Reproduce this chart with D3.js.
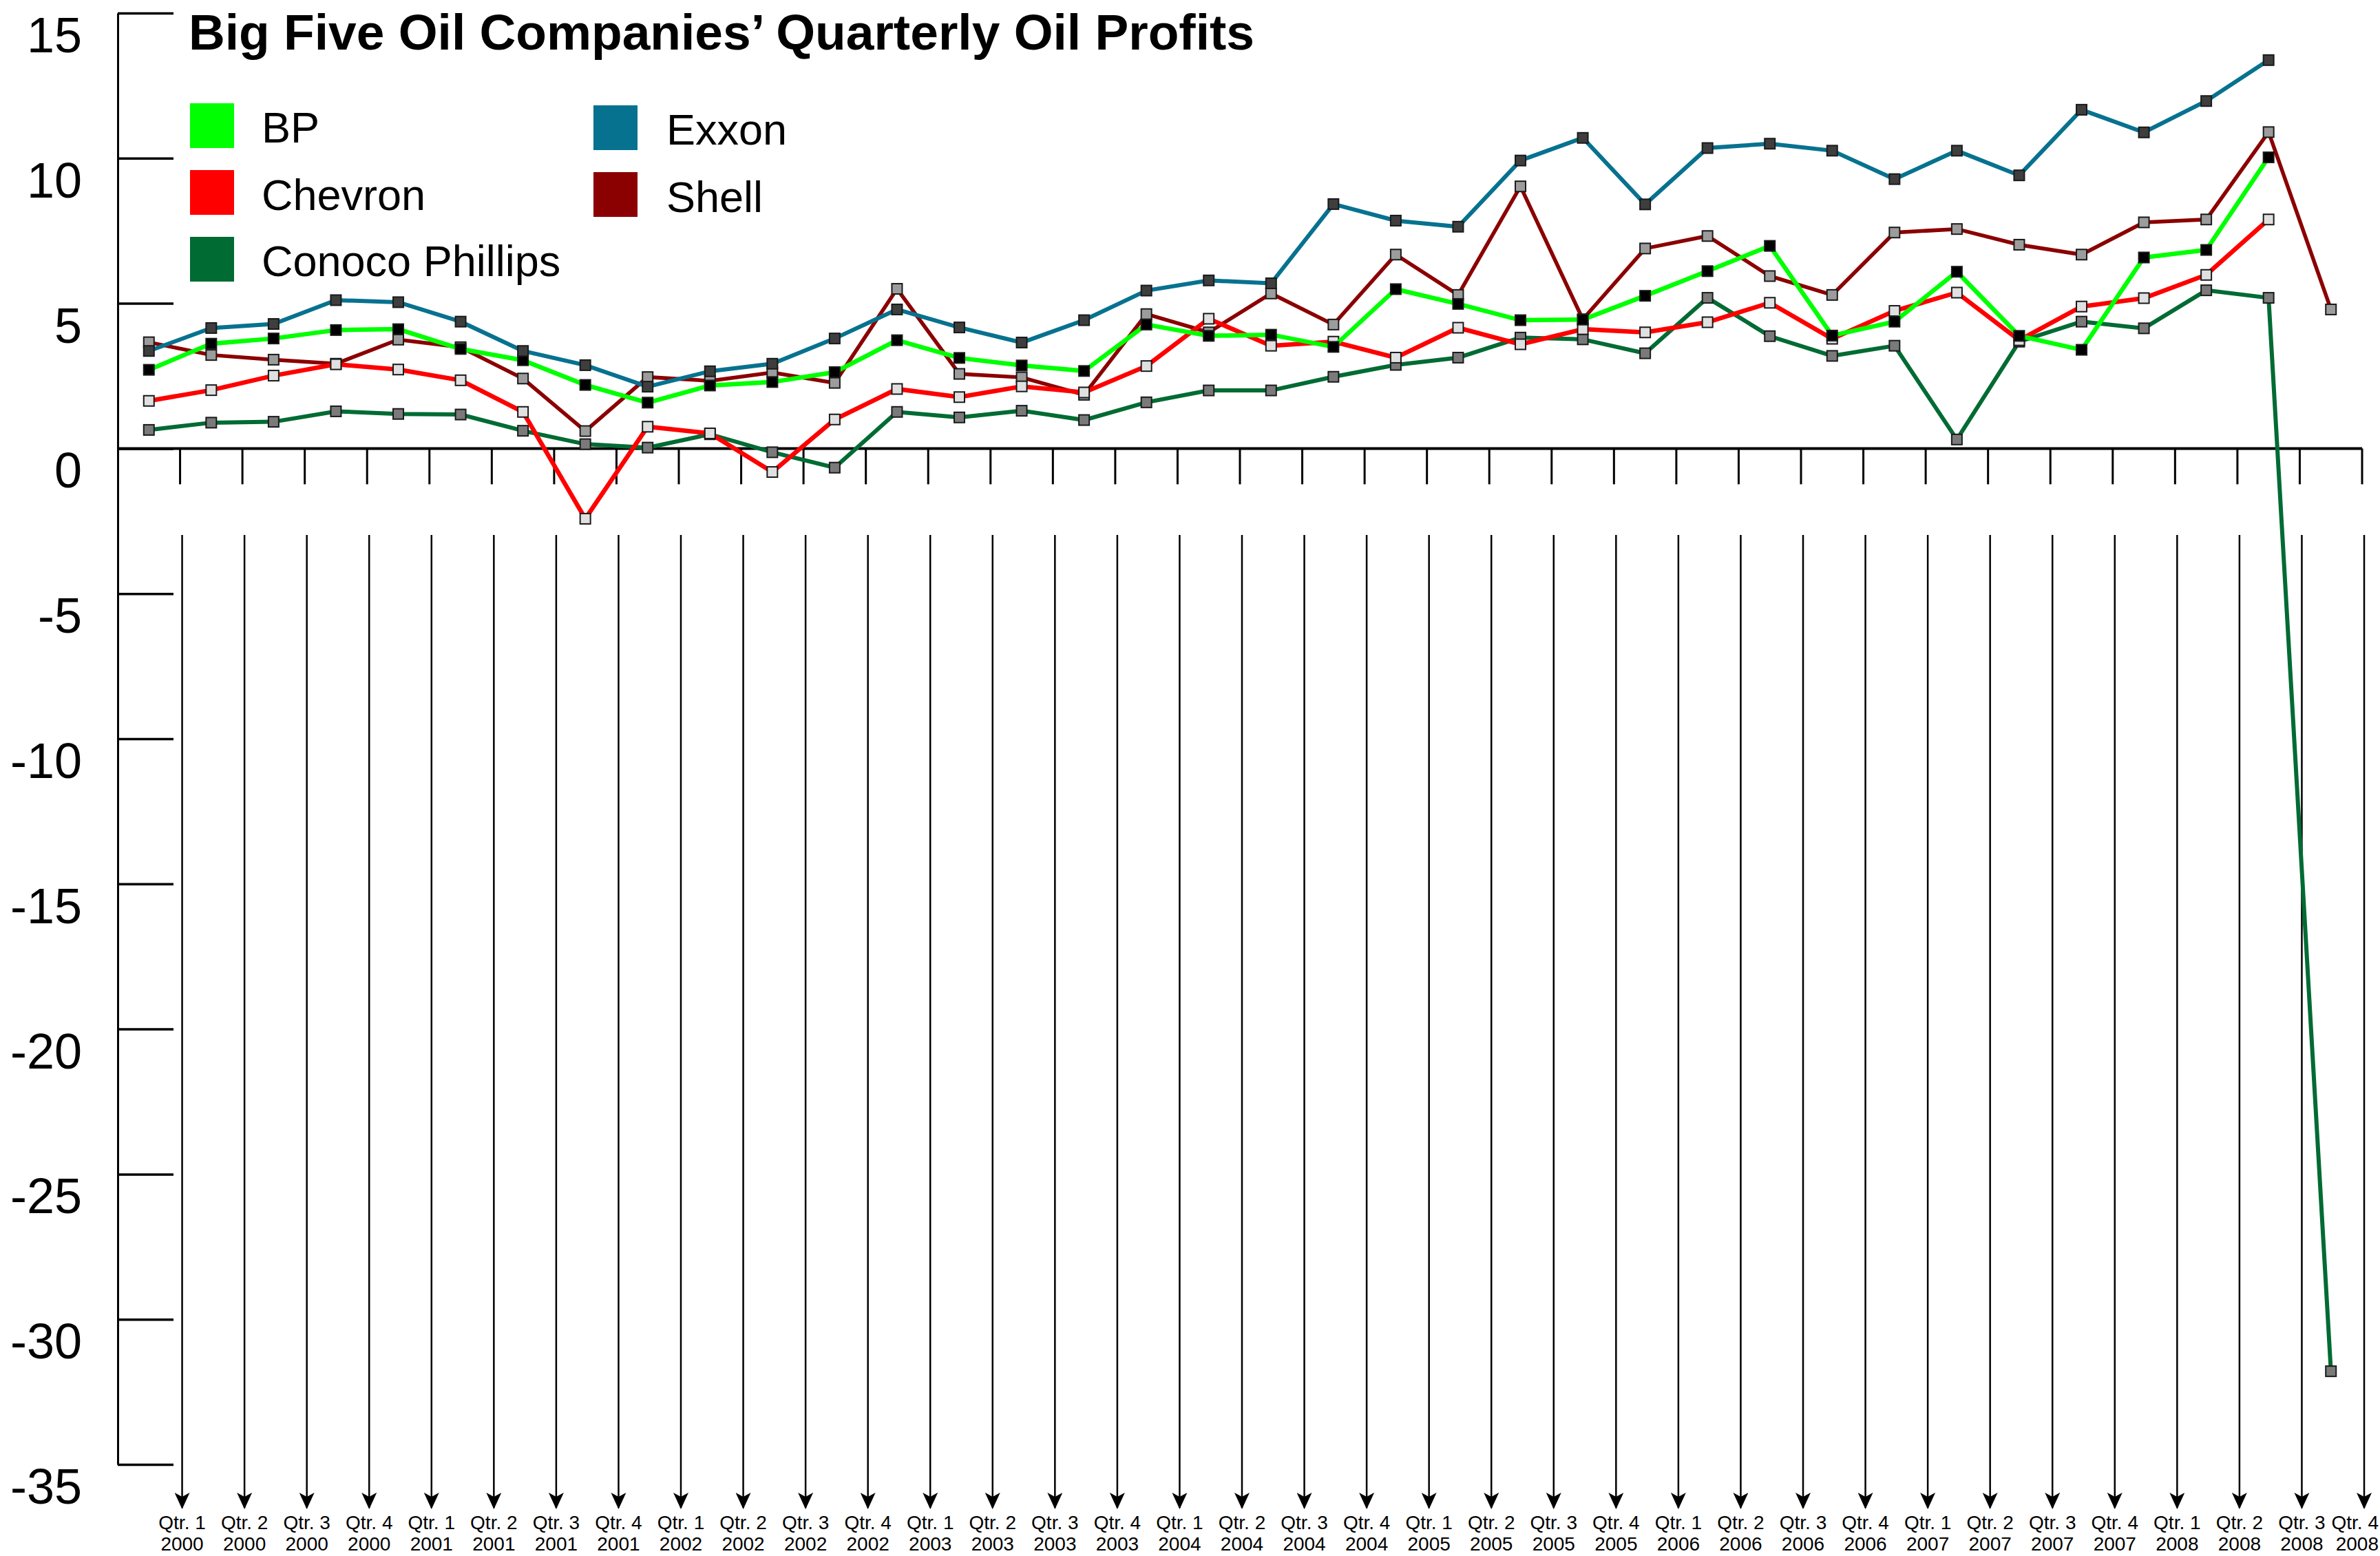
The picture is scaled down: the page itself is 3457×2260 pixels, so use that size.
<!DOCTYPE html>
<html>
<head>
<meta charset="utf-8">
<script src="https://cdn.jsdelivr.net/npm/d3@7"></script>
<style>
  html, body { margin: 0; padding: 0; background: #ffffff; }
  svg { display: block; }
</style>
</head>
<body>
<svg id="chart" width="3457" height="2260"></svg>
<script>
// ---------- DATA ----------
const qtrLabels = [
  "Qtr. 1","Qtr. 2","Qtr. 3","Qtr. 4","Qtr. 1","Qtr. 2","Qtr. 3","Qtr. 4",
  "Qtr. 1","Qtr. 2","Qtr. 3","Qtr. 4","Qtr. 1","Qtr. 2","Qtr. 3","Qtr. 4",
  "Qtr. 1","Qtr. 2","Qtr. 3","Qtr. 4","Qtr. 1","Qtr. 2","Qtr. 3","Qtr. 4",
  "Qtr. 1","Qtr. 2","Qtr. 3","Qtr. 4","Qtr. 1","Qtr. 2","Qtr. 3","Qtr. 4",
  "Qtr. 1","Qtr. 2","Qtr. 3","Qtr. 4"
];
const yearLabels = [
  "2000","2000","2000","2000","2001","2001","2001","2001",
  "2002","2002","2002","2002","2003","2003","2003","2003",
  "2004","2004","2004","2004","2005","2005","2005","2005",
  "2006","2006","2006","2006","2007","2007","2007","2007",
  "2008","2008","2008","2008"
];
const yTicks = [15, 10, 5, 0, -5, -10, -15, -20, -25, -30, -35];

const exxon = [3.36,4.15,4.29,5.11,5.04,4.37,3.36,2.87,2.13,2.66,2.92,3.79,4.79,4.17,3.65,4.42,5.44,5.79,5.69,8.42,7.85,7.64,9.92,10.70,8.41,10.35,10.50,10.26,9.28,10.26,9.41,11.67,10.89,11.97,13.38];
const bp = [2.71,3.61,3.79,4.08,4.11,3.43,3.04,2.19,1.58,2.17,2.29,2.63,3.73,3.12,2.86,2.67,4.27,3.88,3.92,3.50,5.49,4.98,4.42,4.44,5.26,6.11,6.98,3.89,4.37,6.09,3.88,3.40,6.58,6.84,10.03];
const chevron = [1.64,2.01,2.51,2.90,2.72,2.35,1.26,-2.42,0.75,0.52,-0.81,1.00,2.05,1.77,2.14,1.93,2.84,4.47,3.54,3.68,3.13,4.16,3.59,4.11,4.00,4.35,5.02,3.78,4.74,5.37,3.73,4.89,5.18,5.98,7.89];
const shell = [3.66,3.22,3.06,2.92,3.75,3.49,2.41,0.60,2.46,2.33,2.62,2.26,5.50,2.57,2.45,1.85,4.63,4.00,5.34,4.27,6.68,5.29,9.03,4.45,6.89,7.32,5.94,5.29,7.44,7.56,7.02,6.68,7.79,7.89,10.90,4.79];
const conoco = [0.64,0.89,0.92,1.28,1.19,1.17,0.61,0.15,0.03,0.49,-0.13,-0.66,1.26,1.07,1.30,0.98,1.59,2.00,2.00,2.47,2.88,3.13,3.82,3.76,3.28,5.19,3.87,3.19,3.54,0.31,3.68,4.37,4.14,5.45,5.19,-31.79];

const seriesNames = ["BP", "Chevron", "Conoco Phillips", "Exxon", "Shell"];
const seriesColors = ["#00ff00", "#ff0000", "#006b33", "#07728f", "#8b0000"];
const markerFills = ["#000000", "#e0e0e0", "#7a7a7a", "#3e3e3e", "#9c9c9c"];
const lineWidths = [6.5, 6.5, 6, 6, 5.5];
const seriesValues = [bp, chevron, conoco, exxon, shell];
// drawing order bottom -> top
const drawOrder = [2, 4, 1, 0, 3];

// ---------- SCALES ----------
const svg = d3.select("#chart");
const W = 3457;
const axisX = 171, rightX = 3431;
const x = d3.scaleBand().domain(d3.range(qtrLabels.length)).range([axisX, rightX]).paddingInner(0).paddingOuter(0);
const bw = x.bandwidth();
const y = d3.scaleLinear().domain([-35, 15]).range([2127, 19]);

// ---------- Y AXIS ----------
const yAxis = d3.axisRight(y).tickValues(yTicks).tickSize(81).tickSizeOuter(0).tickFormat("");
const gy = svg.append("g").attr("transform", `translate(${axisX},0)`).call(yAxis);
gy.select(".domain").attr("stroke", "#000").attr("stroke-width", 3);
gy.selectAll(".tick line").attr("stroke", "#000").attr("stroke-width", 3.5);

svg.append("g").selectAll("text").data(yTicks).join("text")
  .attr("x", 119).attr("y", d => y(d) + 57)
  .attr("text-anchor", "end")
  .attr("font-family", "'Liberation Sans', Arial, sans-serif")
  .attr("font-size", 72)
  .attr("fill", "#000")
  .text(d => d);

// ---------- X AXIS (zero line + ticks + arrows) ----------
svg.append("line")
  .attr("x1", axisX).attr("x2", rightX)
  .attr("y1", y(0)).attr("y2", y(0))
  .attr("stroke", "#000").attr("stroke-width", 4);

const edges = d3.range(qtrLabels.length).map(i => x(i) + bw);
svg.append("g").selectAll("line").data(edges).join("line")
  .attr("x1", d => d).attr("x2", d => d)
  .attr("y1", y(0)).attr("y2", y(0) + 52)
  .attr("stroke", "#000").attr("stroke-width", 3);

const defs = svg.append("defs");
defs.append("marker")
  .attr("id", "arrowhead")
  .attr("viewBox", "0 0 24 22")
  .attr("refX", 22).attr("refY", 11)
  .attr("markerWidth", 24).attr("markerHeight", 22)
  .attr("markerUnits", "userSpaceOnUse")
  .attr("orient", "auto")
  .append("path")
  .attr("d", "M0,0 L24,11 L0,22 L6,11 Z")
  .attr("fill", "#000");

svg.append("g").selectAll("line").data(edges).join("line")
  .attr("x1", d => d + 3).attr("x2", d => d + 3)
  .attr("y1", 777).attr("y2", 2190)
  .attr("stroke", "#000").attr("stroke-width", 2.5)
  .attr("marker-end", "url(#arrowhead)");

const xl = svg.append("g")
  .attr("font-family", "'Liberation Sans Narrow', 'Liberation Sans', Arial, sans-serif")
  .attr("font-size", 28)
  .attr("fill", "#000");
const lastIdx = qtrLabels.length - 1;
function labelX(i) { return i === lastIdx ? W - 2 : x(i) + bw + 3; }
function labelAnchor(i) { return i === lastIdx ? "end" : "middle"; }
xl.selectAll("text.q").data(qtrLabels).join("text").attr("class", "q")
  .attr("x", (d, i) => labelX(i)).attr("text-anchor", (d, i) => labelAnchor(i))
  .attr("y", 2221).text(d => d);
xl.selectAll("text.yr").data(yearLabels).join("text").attr("class", "yr")
  .attr("x", (d, i) => labelX(i)).attr("text-anchor", (d, i) => labelAnchor(i))
  .attr("y", 2252).text(d => d);

// ---------- SERIES ----------
const line = d3.line().x(d => x(d.i) + bw / 2).y(d => y(d.v));
drawOrder.forEach(k => {
  const pts = seriesValues[k].map((v, i) => ({ i, v }));
  const g = svg.append("g").attr("class", "series");
  g.append("path").datum(pts)
    .attr("d", line)
    .attr("fill", "none")
    .attr("stroke", seriesColors[k])
    .attr("stroke-width", lineWidths[k])
    .attr("stroke-linejoin", "miter");
  g.selectAll("rect").data(pts).join("rect")
    .attr("x", d => x(d.i) + bw / 2 - 7.5)
    .attr("y", d => y(d.v) - 7.5)
    .attr("width", 15).attr("height", 15)
    .attr("fill", markerFills[k])
    .attr("stroke", "#1a1a1a").attr("stroke-width", 2);
});

// ---------- TITLE ----------
svg.append("text")
  .attr("x", 274).attr("y", 72)
  .attr("font-family", "'Liberation Sans Narrow', 'Liberation Sans', Arial, sans-serif")
  .attr("font-weight", "bold")
  .attr("font-size", 72)
  .attr("textLength", 1548)
  .attr("lengthAdjust", "spacingAndGlyphs")
  .attr("fill", "#000")
  .text("Big Five Oil Companies’ Quarterly Oil Profits");

// ---------- LEGEND ----------
const legendPos = [
  { sx: 276, sy: 150, tx: 380, ty: 207 },
  { sx: 276, sy: 247, tx: 380, ty: 305 },
  { sx: 276, sy: 344, tx: 380, ty: 401 },
  { sx: 862, sy: 153, tx: 968, ty: 210 },
  { sx: 862, sy: 250, tx: 968, ty: 308 }
];
const lg = svg.append("g");
seriesNames.forEach((name, k) => {
  const p = legendPos[k];
  lg.append("rect").attr("x", p.sx).attr("y", p.sy).attr("width", 64).attr("height", 65)
    .attr("fill", seriesColors[k]);
  lg.append("text").attr("x", p.tx).attr("y", p.ty)
    .attr("font-family", "'Liberation Sans', Arial, sans-serif")
    .attr("font-size", 63).attr("fill", "#000")
    .text(name);
});
</script>
</body>
</html>
